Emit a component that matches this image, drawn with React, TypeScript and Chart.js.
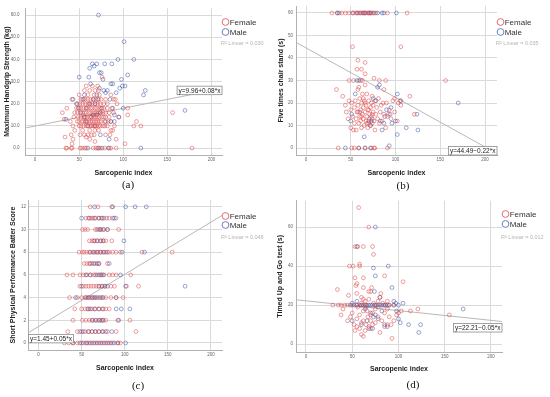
import React, { useEffect, useRef } from 'react';
import { Chart, registerables } from 'chart.js';
Chart.register(...registerables);

type Pt = [number, number];
type Row = [number, number[]];
const rows = (r: Row[]): Pt[] => r.flatMap(([y, xs]) => xs.map((x) => [x, y] as Pt));

const X_TICKS = [0, 50, 100, 150, 200];
const X_TITLE = 'Sarcopenic index';
const LEGEND_LABELS = ['Female', 'Male'];

// ---------- Panel (a): Maximum Handgrip Strength ----------
const A_Y_TICKS = [0, 10, 20, 30, 40, 50, 60];
const A_FEMALE: Pt[] = rows([
  [0, [35, 36, 41, 42, 51, 53, 56, 58, 66, 69, 71, 74, 79, 83, 86, 92, 178]],
  [2, [42, 102]],
  [3, [68]],
  [4, [43, 62, 92]],
  [5, [34, 58]],
  [6, [41, 51, 56, 60, 64, 67, 80, 85]],
  [8, [45, 54, 62, 68, 72, 86, 88]],
  [10, [43, 50, 52, 55, 58, 60, 63, 64, 66, 68, 70, 72, 74, 77, 79, 82, 90, 112, 120]],
  [12, [40, 48, 50, 53, 55, 57, 59, 61, 63, 65, 67, 69, 71, 73, 75, 79, 83, 86, 115]],
  [13, [33]],
  [14, [44, 49, 52, 55, 57, 59, 62, 64, 67, 69, 71, 73, 76, 78, 80, 84, 95]],
  [15, [105]],
  [16, [31, 45, 48, 51, 54, 56, 58, 61, 63, 66, 68, 70, 72, 74, 77, 80, 84, 89, 156]],
  [18, [36, 47, 50, 52, 55, 58, 60, 63, 65, 68, 70, 73, 75, 78, 82, 87, 105]],
  [20, [48, 51, 54, 57, 60, 62, 65, 68, 71, 74, 78, 82, 93]],
  [22, [42, 52, 55, 57, 60, 63, 66, 69, 72, 75, 80, 89, 91]],
  [24, [50, 60, 67, 73, 86]],
  [26, [56, 62, 68, 72]],
  [28, [58, 65, 71]],
  [32, [76]],
]);
const A_MALE: Pt[] = [
  [72, 60], [101, 48], [112, 40], [94, 40], [65, 38], [70, 38], [79, 38], [87, 38], [62, 36], [67, 37],
  [73, 34], [75, 34], [50, 32], [61, 32], [77, 31], [105, 33], [98, 31], [102, 28], [99, 28], [96, 27],
  [86, 29], [88, 29], [73, 27], [78, 26], [82, 26], [80, 25], [125, 26], [123, 24], [92, 25], [63, 29],
  [56, 24], [54, 22], [47, 20], [43, 22], [49, 18], [58, 18], [100, 18], [170, 17], [120, 0], [60, 0],
  [72, 0], [76, 0], [84, 0], [66, 15], [70, 15], [74, 16], [80, 12], [86, 12], [90, 12], [64, 14],
  [56, 14], [52, 16], [60, 10], [68, 10], [74, 6], [84, 4], [35, 13], [71, 22], [68, 20], [85, 22],
  [90, 15], [95, 14], [66, 22], [62, 20], [76, 18], [70, 24], [58, 12], [88, 18],
];
const A_FIT = [9.96, 0.08];

// ---------- Panel (b): Five times chair stand ----------
const B_Y_TICKS = [0, 10, 20, 30, 40, 50, 60];
const B_FEMALE: Pt[] = [
  ...rows([
    [60, [29, 35, 40, 44, 48, 53, 56, 58, 60, 63, 65, 67, 69, 71, 73, 75, 78, 91, 113]],
    [0, [36, 51, 54, 59, 66, 73, 76, 77, 91]],
  ]),
  [52, 45], [106, 45], [58, 39], [66, 38], [57, 35], [62, 35], [66, 33], [48, 30], [53, 30], [61, 30],
  [63, 30], [76, 31], [82, 30], [89, 30], [156, 30], [34, 26], [41, 23], [116, 23], [87, 26], [99, 22],
  [106, 19], [105, 21], [121, 15], [92, 15],
  [44, 19], [45, 16], [47, 13], [48, 21], [50, 9], [50, 17], [51, 20], [52, 14], [53, 8], [54, 11],
  [54, 18], [55, 21], [56, 13], [56, 8], [57, 16], [58, 19], [58, 26], [59, 11], [59, 27], [60, 14],
  [60, 22], [61, 17], [61, 12], [62, 9], [62, 20], [63, 15], [63, 24], [64, 13], [64, 18], [65, 10],
  [65, 21], [66, 16], [66, 28], [67, 12], [67, 19], [68, 14], [68, 24], [69, 9], [69, 17], [70, 21],
  [70, 11], [71, 15], [71, 13], [72, 18], [72, 10], [73, 20], [73, 14], [74, 11], [74, 23], [75, 16],
  [75, 19], [76, 12], [77, 21], [77, 8], [78, 15], [79, 18], [80, 13], [81, 22], [82, 11], [83, 16],
  [84, 19], [85, 12], [86, 20], [87, 15], [89, 9], [90, 20], [91, 14], [93, 17], [95, 13], [97, 21],
  [99, 16], [102, 12], [103, 20], [58, 16], [62, 14], [66, 20], [70, 17], [74, 15], [68, 11], [64, 22],
];
const B_MALE: Pt[] = [
  ...rows([
    [60, [35, 37, 52, 57, 61, 64, 66, 70, 72, 76, 80, 85, 87, 101]],
    [0, [44, 59, 66, 72]],
  ]),
  [93, 1], [170, 20], [102, 24], [106, 21], [124, 15], [125, 8], [112, 9], [102, 6], [96, 11], [100, 12],
  [85, 8], [65, 5], [55, 24], [57, 30], [59, 30], [80, 27], [82, 28], [75, 22], [78, 21], [88, 14],
  [90, 17], [95, 18], [73, 12], [74, 13], [70, 12], [72, 10], [60, 16], [51, 15], [50, 12], [83, 12],
  [87, 11], [94, 15],
];
const B_FIT = [44.49, -0.22];

// ---------- Panel (c): Short Physical Performance Battery ----------
const C_Y_TICKS = [0, 2, 4, 6, 8, 10, 12];
const C_FEMALE: Pt[] = rows([
  [12, [60, 69, 85]],
  [11, [55, 58, 61, 63, 66, 70, 74, 79, 82, 90]],
  [10, [51, 54, 57, 66, 68, 72, 76, 80, 93]],
  [9, [59, 62, 64, 68, 72, 75, 78, 85]],
  [8, [47, 51, 53, 56, 59, 63, 66, 69, 72, 75, 78, 82, 86, 90, 95, 120, 155]],
  [7, [53, 56, 59, 62, 66, 70, 80]],
  [6, [33, 40, 48, 52, 56, 60, 64, 68, 72, 76, 82, 86, 90, 107]],
  [5, [48, 52, 55, 58, 61, 64, 67, 70, 73, 77, 84, 88, 102, 116]],
  [4, [36, 45, 50, 54, 57, 60, 63, 66, 70, 74, 78, 84, 90, 98]],
  [3, [42, 50, 54, 58, 62, 66, 70, 74, 78, 82]],
  [2, [40, 51, 55, 59, 63, 67, 71, 75, 78, 92, 106]],
  [1, [34, 45, 50, 54, 58, 62, 66, 70, 75, 80, 90, 113]],
  [0, [30, 35, 40, 45, 50, 55, 58, 62, 66, 70, 74, 78, 82, 86, 92, 95]],
]);
const C_MALE: Pt[] = rows([
  [12, [65, 86, 101, 112, 125]],
  [11, [50, 59, 65, 70, 73, 76, 86, 88]],
  [10, [70, 72, 75, 80]],
  [9, [65, 68, 72, 75, 99]],
  [8, [60, 64, 68, 72, 76, 80, 97, 123]],
  [7, [60, 64, 68, 70, 82]],
  [6, [55, 60, 66, 70, 73, 75, 95]],
  [5, [50, 70, 74, 77, 80, 101, 170]],
  [4, [43, 55, 58, 62, 65, 68, 72, 75, 90]],
  [3, [57, 60, 65, 70, 75, 90, 96, 106]],
  [2, [62, 66, 70, 73, 75, 93]],
  [1, [48, 52, 58, 62, 66, 70, 74, 78, 85]],
  [0, [40, 48, 52, 56, 60, 64, 68, 72, 76, 80, 84, 88, 92, 101]],
]);
// unrounded slope (label shows 0.05)
const C_FIT = [1.45, 0.046];

// ---------- Panel (d): Timed Up and Go ----------
const D_Y_TICKS = [0, 20, 40, 60];
const D_FEMALE: Pt[] = [
  ...rows([[20, [29, 35, 38, 42, 45, 50, 55, 60, 65, 75, 85, 90, 95]]]),
  [57, 70], [68, 60], [53, 50], [56, 50], [62, 50], [72, 50], [73, 46], [47, 40], [51, 40], [58, 40],
  [58, 41], [105, 32], [53, 34], [62, 34], [55, 31], [54, 30], [62, 29], [71, 29], [70, 27], [81, 26],
  [80, 24], [34, 28], [46, 25], [60, 24], [62, 23], [85, 35], [113, 17], [121, 18], [155, 15], [103, 17],
  [38, 15], [40, 18], [93, 3], [60, 5], [62, 4], [53, 7], [55, 9], [60, 11], [65, 10], [70, 8],
  [80, 6], [85, 9], [88, 10], [52, 10], [55, 13], [58, 15], [62, 17], [65, 19], [67, 14], [70, 12],
  [72, 16], [75, 18], [78, 14], [82, 12], [85, 16], [88, 18], [90, 14], [95, 12], [98, 15], [50, 16],
  [48, 14], [45, 12], [56, 19], [60, 21], [64, 22], [68, 23], [73, 21], [78, 22], [83, 21], [66, 17],
  [70, 15], [75, 11], [62, 12], [68, 9], [58, 8], [64, 7], [72, 10], [92, 10], [100, 16], [88, 22],
  [55, 26], [68, 27], [78, 19],
];
const D_MALE: Pt[] = [
  ...rows([[20, [48, 52, 55, 58, 60, 62, 64, 66, 68, 70, 72, 74, 76, 78, 80, 82, 84, 86, 88, 90, 95, 100]]]),
  [75, 60], [55, 50], [73, 39], [75, 35], [89, 40], [93, 29], [74, 27], [80, 24], [50, 21], [55, 22],
  [105, 21], [95, 22], [97, 21], [98, 17], [100, 13], [102, 11], [111, 10], [122, 6], [124, 10], [170, 18],
  [50, 12], [68, 8], [72, 8], [75, 15], [78, 13], [85, 10], [88, 9], [70, 16], [66, 12], [73, 14],
  [82, 17], [60, 10], [64, 18],
];
const D_FIT = [22.21, -0.05];

const FONT = "'Liberation Sans', Arial, sans-serif";
const FEM = 'rgba(220, 60, 60, 0.62)';
const MAL = 'rgba(45, 75, 160, 0.62)';
const FEM_L = 'rgb(225, 95, 95)';
const MAL_L = 'rgb(90, 115, 180)';

type EqMode = 'rightOnLine' | 'bottomRight' | 'leftBelowLine' | 'rightBelowLine';
interface PanelCfg {
  left: number; top: number; width: number; height: number;
  padTop: number; padRight: number; yAxisW: number; xAxisH: number;
  xMin: number; xMax: number; yMin: number; yMax: number;
  yTicks: number[]; yDec: number; yTitle: string; yTitlePad: number; yTickPad: number;
  xTitlePad: number;
  female: Pt[]; male: Pt[]; fit: number[]; eq: string; r2: string; eqMode: EqMode;
  legY: number[];
  caption: string; capX: number; capY: number;
}

const PANELS: PanelCfg[] = [
  {
    left: 0, top: 0, width: 275, height: 180, padTop: 6, padRight: 53, yAxisW: 25, xAxisH: 25,
    xMin: -11.4, xMax: 212, yMin: -3.1, yMax: 63.1, yTicks: A_Y_TICKS, yDec: 1,
    yTitle: 'Maximum Handgrip Strength (kg)', yTitlePad: 2.8, yTickPad: 5.5, xTitlePad: 3.2,
    female: A_FEMALE, male: A_MALE, fit: A_FIT, eq: 'y=9.96+0.08*x', r2: '0.030', eqMode: 'rightOnLine',
    legY: [22, 32, 43], caption: '(a)', capX: 128, capY: 184,
  },
  {
    left: 275, top: 0, width: 275, height: 180, padTop: 6, padRight: 53, yAxisW: 21, xAxisH: 25,
    xMin: -11.2, xMax: 213.4, yMin: -3.1, yMax: 63.1, yTicks: B_Y_TICKS, yDec: 0,
    yTitle: 'Five times chair stand (s)', yTitlePad: 1.8, yTickPad: 3, xTitlePad: 3.2,
    female: B_FEMALE, male: B_MALE, fit: B_FIT, eq: 'y=44.49\u22120.22*x', r2: '0.035', eqMode: 'bottomRight',
    legY: [22, 32, 43], caption: '(b)', capX: 403, capY: 185,
  },
  {
    left: 0, top: 195, width: 275, height: 180, padTop: 5, padRight: 53, yAxisW: 28, xAxisH: 25,
    xMin: -12.2, xMax: 212.8, yMin: -0.62, yMax: 12.6, yTicks: C_Y_TICKS, yDec: 0,
    yTitle: 'Short Physical Performance Batter Score', yTitlePad: 8.8, yTickPad: 2, xTitlePad: 3.2,
    female: C_FEMALE, male: C_MALE, fit: C_FIT, eq: 'y=1.45+0.05*x', r2: '0.048', eqMode: 'leftBelowLine',
    legY: [21, 30, 42], caption: '(c)', capX: 138, capY: 385,
  },
  {
    left: 275, top: 195, width: 275, height: 180, padTop: 2, padRight: 48, yAxisW: 21, xAxisH: 23,
    xMin: -10.8, xMax: 212, yMin: -4, yMax: 73.5, yTicks: D_Y_TICKS, yDec: 0,
    yTitle: 'Timed Up and Go test (s)', yTitlePad: 0.8, yTickPad: 3, xTitlePad: 2.2,
    female: D_FEMALE, male: D_MALE, fit: D_FIT, eq: 'y=22.21\u22120.05*x', r2: '0.012', eqMode: 'rightBelowLine',
    legY: [19, 29, 42], caption: '(d)', capX: 413, capY: 384,
  },
];

function makeOverlay(p: PanelCfg) {
  return {
    id: 'overlay',
    afterDatasetsDraw(chart: any) {
      const { ctx, chartArea: ca, scales } = chart;
      const ys = scales.y;
      const lineAt = (x: number) => p.fit[0] + p.fit[1] * x;
      // equation box
      ctx.save();
      ctx.font = `6.5px ${FONT}`;
      const tw = ctx.measureText(p.eq).width;
      const bw = tw + 3, bh = 8.5;
      let bx = 0, by = 0;
      if (p.eqMode === 'rightOnLine') {
        bx = ca.right - bw; by = ys.getPixelForValue(lineAt(p.xMax)) + 2 - bh / 2;
      } else if (p.eqMode === 'bottomRight') {
        bx = ca.right - bw; by = ca.bottom - bh;
      } else if (p.eqMode === 'leftBelowLine') {
        bx = ca.left + 0.5; by = ys.getPixelForValue(lineAt(p.xMin)) + 1.5;
      } else {
        bx = ca.right - bw; by = ys.getPixelForValue(lineAt(p.xMax)) + 2;
      }
      ctx.fillStyle = '#ffffff';
      ctx.fillRect(bx, by, bw, bh);
      ctx.strokeStyle = '#8a8a8a';
      ctx.lineWidth = 0.8;
      ctx.strokeRect(bx, by, bw, bh);
      ctx.fillStyle = '#222';
      ctx.textBaseline = 'middle';
      ctx.textAlign = 'left';
      ctx.fillText(p.eq, bx + 1.5, by + bh / 2 + 0.3);
      ctx.restore();

      // legend
      ctx.save();
      const cx = ca.right + 3.5;
      [FEM_L, MAL_L].forEach((col, i) => {
        ctx.beginPath();
        ctx.arc(cx, p.legY[i], 3.4, 0, Math.PI * 2);
        ctx.strokeStyle = col;
        ctx.lineWidth = 0.9;
        ctx.stroke();
        ctx.fillStyle = '#333';
        ctx.font = `8px ${FONT}`;
        ctx.textBaseline = 'middle';
        ctx.textAlign = 'left';
        ctx.fillText(LEGEND_LABELS[i], cx + 4.2, p.legY[i] + 0.5);
      });
      ctx.fillStyle = '#b4b4b4';
      ctx.font = `5.5px ${FONT}`;
      ctx.textBaseline = 'middle';
      ctx.fillText(`R\u00B2 Linear = ${p.r2}`, ca.right - 1, p.legY[2]);
      ctx.restore();
    },
  };
}

function Panel({ p }: { p: PanelCfg }) {
  const ref = useRef<HTMLCanvasElement | null>(null);
  useEffect(() => {
    if (!ref.current) return;
    const pts = (a: Pt[]) => a.map(([x, y]) => ({ x, y }));
    const chart = new Chart(ref.current, {
      type: 'scatter',
      data: {
        datasets: [
          {
            label: 'Female', data: pts(p.female), borderColor: FEM, backgroundColor: 'rgba(0,0,0,0)',
            pointRadius: 1.9, pointBorderWidth: 0.8, pointHoverRadius: 1.9,
          },
          {
            label: 'Male', data: pts(p.male), borderColor: MAL, backgroundColor: 'rgba(0,0,0,0)',
            pointRadius: 1.9, pointBorderWidth: 0.8, pointHoverRadius: 1.9,
          },
          {
            type: 'line', label: 'fit',
            data: [{ x: p.xMin, y: p.fit[0] + p.fit[1] * p.xMin }, { x: p.xMax, y: p.fit[0] + p.fit[1] * p.xMax }],
            borderColor: '#b8b8b8', borderWidth: 1, pointRadius: 0, fill: false, showLine: true,
          } as any,
        ],
      },
      options: {
        responsive: false,
        animation: false,
        devicePixelRatio: 1,
        events: [],
        layout: { padding: { left: 0, top: p.padTop, right: p.padRight, bottom: 0 } },
        plugins: { legend: { display: false }, tooltip: { enabled: false } },
        scales: {
          x: {
            type: 'linear', min: p.xMin, max: p.xMax,
            afterBuildTicks: (s: any) => { s.ticks = X_TICKS.map((v) => ({ value: v })); },
            afterFit: (s: any) => { s.height = p.xAxisH; },
            ticks: { font: { family: FONT, size: 4.5 }, color: '#666', padding: 2.5, maxRotation: 0, autoSkip: false,
              callback: (v: any) => String(v) },
            grid: { color: '#dadada', lineWidth: 1, drawTicks: false },
            border: { color: '#b0b0b0', width: 1 },
            title: { display: true, text: X_TITLE, color: '#222', font: { family: FONT, size: 7, weight: 'bold' },
              padding: { top: 0, bottom: p.xTitlePad } },
          },
          y: {
            type: 'linear', min: p.yMin, max: p.yMax,
            afterBuildTicks: (s: any) => { s.ticks = p.yTicks.map((v) => ({ value: v })); },
            afterFit: (s: any) => { s.width = p.yAxisW; },
            ticks: { font: { family: FONT, size: 4.5 }, color: '#666', padding: p.yTickPad, autoSkip: false,
              callback: (v: any) => Number(v).toFixed(p.yDec) },
            grid: { color: '#dadada', lineWidth: 1, drawTicks: false },
            border: { color: '#b0b0b0', width: 1 },
            title: { display: true, text: p.yTitle, color: '#222', font: { family: FONT, size: 7, weight: 'bold' },
              padding: { top: p.yTitlePad, bottom: 0 } },
          },
        },
      } as any,
      plugins: [makeOverlay(p)],
    });
    return () => chart.destroy();
  }, [p]);
  return (
    <>
      <canvas
        ref={ref}
        width={p.width}
        height={p.height}
        style={{ position: 'absolute', left: p.left, top: p.top, width: p.width, height: p.height }}
      />
      <div
        style={{
          position: 'absolute', left: p.capX, top: p.capY, transform: 'translate(-50%, -50%)',
          fontFamily: "'Liberation Serif', 'Times New Roman', serif", fontSize: 11, color: '#111', whiteSpace: 'nowrap',
        }}
      >
        {p.caption}
      </div>
    </>
  );
}

export default function App() {
  return (
    <div style={{ position: 'absolute', left: 0, top: 0, width: 550, height: 397, background: '#fff', overflow: 'hidden' }}>
      {PANELS.map((p, i) => (
        <Panel key={i} p={p} />
      ))}
    </div>
  );
}
